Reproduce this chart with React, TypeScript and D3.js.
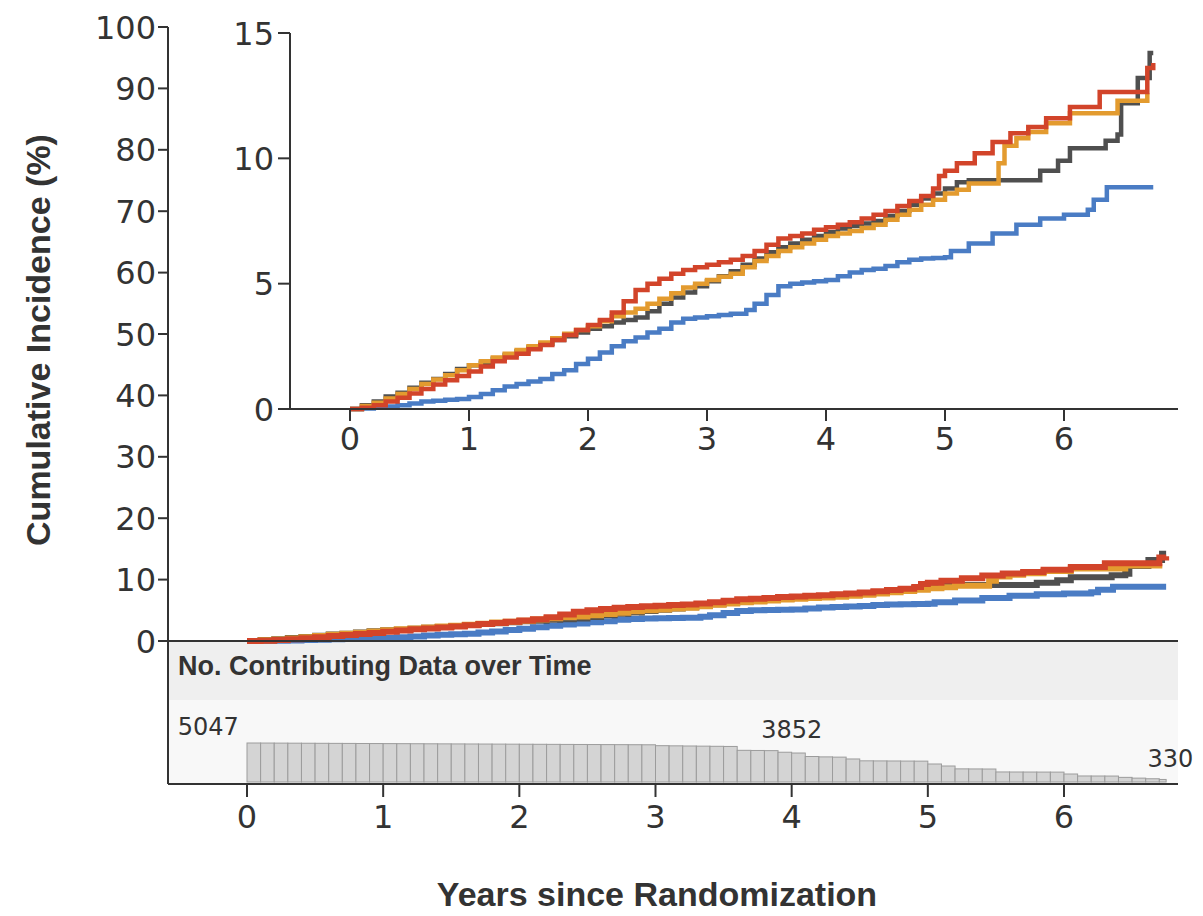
import * as d3 from "d3";

// cumulative incidence (%), [years, value]
const grey: [number, number][] = [
  [0, 0], [0.1, 0.15], [0.2, 0.3], [0.3, 0.5], [0.4, 0.65], [0.5, 0.85], [0.6, 1.05], [0.7, 1.2],
  [0.8, 1.4], [0.9, 1.6], [1.0, 1.75], [1.1, 1.85], [1.2, 2.0], [1.3, 2.15], [1.4, 2.3], [1.5, 2.45],
  [1.6, 2.6], [1.7, 2.75], [1.8, 2.9], [1.9, 3.05], [2.0, 3.2], [2.1, 3.3], [2.2, 3.45], [2.3, 3.55],
  [2.4, 3.65], [2.5, 3.9], [2.6, 4.2], [2.7, 4.45], [2.8, 4.65], [2.9, 4.9], [3.0, 5.1], [3.1, 5.3],
  [3.2, 5.5], [3.3, 5.75], [3.4, 6.0], [3.5, 6.25], [3.6, 6.45], [3.7, 6.6], [3.8, 6.75], [3.9, 6.9],
  [4.0, 7.05], [4.1, 7.2], [4.2, 7.3], [4.3, 7.4], [4.4, 7.5], [4.5, 7.7], [4.6, 7.9], [4.7, 8.15],
  [4.8, 8.4], [4.9, 8.6], [5.0, 8.8], [5.1, 9.05], [5.2, 9.13], [5.8, 9.5], [5.95, 9.9], [6.05, 10.4],
  [6.35, 10.7], [6.45, 10.95], [6.48, 12.2], [6.62, 13.2], [6.72, 14.2], [6.75, 14.2],
];
const blue: [number, number][] = [
  [0, 0], [0.1, 0.02], [0.2, 0.05], [0.3, 0.1], [0.4, 0.15], [0.5, 0.22], [0.6, 0.3], [0.7, 0.33],
  [0.8, 0.37], [0.9, 0.4], [1.0, 0.48], [1.1, 0.6], [1.2, 0.75], [1.3, 0.9], [1.4, 1.0], [1.5, 1.1],
  [1.6, 1.2], [1.7, 1.4], [1.8, 1.55], [1.9, 1.8], [2.0, 2.0], [2.1, 2.25], [2.2, 2.5], [2.3, 2.7],
  [2.4, 2.85], [2.5, 3.05], [2.6, 3.2], [2.7, 3.45], [2.8, 3.6], [2.9, 3.65], [3.0, 3.7], [3.1, 3.75],
  [3.2, 3.8], [3.33, 3.95], [3.4, 4.2], [3.5, 4.55], [3.6, 4.9], [3.7, 5.0], [3.8, 5.05], [3.9, 5.1],
  [4.0, 5.15], [4.1, 5.3], [4.2, 5.45], [4.3, 5.55], [4.4, 5.6], [4.5, 5.7], [4.6, 5.85], [4.7, 5.95],
  [4.8, 6.0], [4.9, 6.02], [5.0, 6.05], [5.05, 6.3], [5.2, 6.6], [5.4, 7.0], [5.6, 7.35],
  [5.8, 7.6], [6.0, 7.75], [6.2, 7.95], [6.25, 8.35], [6.36, 8.85], [6.75, 8.85],
];
const orange: [number, number][] = [
  [0, 0], [0.1, 0.12], [0.2, 0.25], [0.3, 0.42], [0.4, 0.6], [0.5, 0.8], [0.6, 1.0], [0.7, 1.18],
  [0.8, 1.35], [0.9, 1.55], [1.0, 1.75], [1.1, 1.9], [1.2, 2.05], [1.3, 2.2], [1.4, 2.35], [1.5, 2.5],
  [1.6, 2.65], [1.7, 2.82], [1.8, 3.0], [1.9, 3.15], [2.0, 3.3], [2.1, 3.5], [2.2, 3.7], [2.3, 3.85],
  [2.4, 4.0], [2.5, 4.2], [2.6, 4.4], [2.7, 4.62], [2.8, 4.85], [2.9, 5.0], [3.0, 5.15], [3.1, 5.28],
  [3.2, 5.4], [3.3, 5.65], [3.4, 5.9], [3.5, 6.1], [3.6, 6.3], [3.7, 6.45], [3.8, 6.6], [3.9, 6.75],
  [4.0, 6.9], [4.1, 7.0], [4.2, 7.1], [4.3, 7.22], [4.4, 7.35], [4.5, 7.55], [4.6, 7.75], [4.7, 7.95],
  [4.8, 8.15], [4.9, 8.35], [5.0, 8.6], [5.1, 8.75], [5.2, 9.0], [5.4, 9.0], [5.45, 9.8], [5.5, 10.5],
  [5.6, 10.8], [5.7, 11.05], [5.85, 11.4], [6.05, 11.8], [6.45, 12.3], [6.7, 12.6],
];
const red: [number, number][] = [
  [0, 0], [0.1, 0.05], [0.2, 0.15], [0.3, 0.3], [0.4, 0.45], [0.5, 0.62], [0.6, 0.8], [0.7, 0.98],
  [0.8, 1.15], [0.9, 1.32], [1.0, 1.5], [1.1, 1.7], [1.2, 1.9], [1.3, 2.05], [1.4, 2.2], [1.5, 2.38],
  [1.6, 2.55], [1.7, 2.75], [1.8, 2.95], [1.9, 3.15], [2.0, 3.35], [2.1, 3.55], [2.2, 3.85], [2.3, 4.3],
  [2.4, 4.75], [2.5, 5.0], [2.6, 5.2], [2.7, 5.4], [2.8, 5.55], [2.9, 5.65], [3.0, 5.75], [3.1, 5.85],
  [3.2, 5.95], [3.3, 6.1], [3.4, 6.3], [3.5, 6.55], [3.6, 6.8], [3.7, 6.9], [3.8, 7.0], [3.9, 7.15],
  [4.0, 7.25], [4.1, 7.35], [4.2, 7.45], [4.3, 7.6], [4.4, 7.75], [4.5, 7.9], [4.6, 8.1], [4.7, 8.3],
  [4.8, 8.5], [4.9, 8.8], [4.95, 9.3], [5.0, 9.5], [5.1, 9.8], [5.25, 10.2], [5.4, 10.65], [5.55, 11.0],
  [5.7, 11.25], [5.85, 11.6], [6.05, 12.05], [6.3, 12.65], [6.7, 13.6], [6.75, 13.8],
];

const series = [
  { name: "blue", color: "#4a7cc4", data: blue },
  { name: "grey", color: "#4f4f4f", data: grey },
  { name: "orange", color: "#e39b2f", data: orange },
  { name: "red", color: "#d2442a", data: red },
];

// number contributing data, per 0.1-year bin
const counts = [
  5047, 5040, 5032, 5024, 5016, 5008, 5000, 4992, 4984, 4976,
  4968, 4960, 4952, 4944, 4936, 4928, 4920, 4912, 4904, 4896,
  4888, 4880, 4872, 4864, 4856, 4848, 4840, 4832, 4824, 4816,
  4700, 4680, 4660, 4640, 4620, 4600, 4100, 4080, 4060, 3852,
  3750, 3300, 3250, 3220, 2980, 2740, 2730, 2720, 2710, 2700,
  2330, 2070, 1700, 1690, 1680, 1300, 1295, 1290, 1285, 1280,
  1035, 780, 775, 770, 600, 500, 420, 330,
];
const binWidth = 0.1;
const endYear = 6.75;

const mainYTicks = [0, 10, 20, 30, 40, 50, 60, 70, 80, 90, 100];
const insetYTicks = [0, 5, 10, 15];
const xTicks = [0, 1, 2, 3, 4, 5, 6];

const numberLabels = [
  { text: "5047", year: -0.06, anchor: "end", count: 5047 },
  { text: "3852", year: 4.0, anchor: "middle", count: 4700 },
  { text: "330", year: 6.95, anchor: "end", count: 900 },
];

export default function App() {
  const width = 1203;
  const height = 916;
  const axisLeft = 168;
  const plotRight = 1178;
  const bottomAxis = 784;

  const x = d3.scaleLinear([0, 6], [247, 1064]);
  const y = d3.scaleLinear([0, 100], [641, 27]);
  const xi = d3.scaleLinear([0, 6], [350, 1064]);
  const yi = d3.scaleLinear([0, 15], [409, 33]);
  const yb = d3.scaleLinear([0, 5047], [782, 743]);

  const mainLine = d3.line<[number, number]>((d) => x(d[0]), (d) => y(d[1])).curve(d3.curveStepAfter);
  const insetLine = d3.line<[number, number]>((d) => xi(d[0]), (d) => yi(d[1])).curve(d3.curveStepAfter);

  const tickFont = { fontFamily: "DejaVu Sans", fontSize: 32, fill: "#333" };
  const boldFont = { fontFamily: "Liberation Sans", fontWeight: 700, fill: "#333" };

  return (
    <svg width={width} height={height} style={{ position: "absolute", left: 0, top: 0, background: "#fff" }}>
      {/* bands under main chart */}
      <rect x={axisLeft} y={y(0)} width={plotRight - axisLeft} height={700 - y(0)} fill="#efefef" />
      <rect x={axisLeft} y={700} width={plotRight - axisLeft} height={bottomAxis - 700} fill="#f8f8f8" />
      <text x={178} y={675} {...boldFont} fontSize={27}>No. Contributing Data over Time</text>

      {/* count bars */}
      <g fill="#d4d4d4" stroke="#9c9c9c" strokeWidth={1}>
        {counts.map((c, i) => {
          const x0 = x(i * binWidth);
          const x1 = x(Math.min((i + 1) * binWidth, endYear));
          return <rect key={i} x={x0} y={yb(c)} width={x1 - x0} height={yb(0) - yb(c)} />;
        })}
      </g>
      {numberLabels.map((l) => (
        <text key={l.text} x={x(l.year)} y={yb(l.count) - 8} textAnchor={l.anchor} fontFamily="DejaVu Sans" fontSize={24} fill="#333">
          {l.text}
        </text>
      ))}

      {/* main curves */}
      <g fill="none" strokeWidth={6}>
        {series.map((s) => (
          <path key={s.name} d={mainLine(s.data) ?? ""} stroke={s.color} />
        ))}
      </g>

      {/* main axes */}
      <g stroke="#333" strokeWidth={2}>
        <line x1={axisLeft} x2={axisLeft} y1={y(100)} y2={bottomAxis} />
        <line x1={axisLeft} x2={plotRight} y1={y(0)} y2={y(0)} />
        <line x1={axisLeft} x2={plotRight} y1={bottomAxis} y2={bottomAxis} />
        {mainYTicks.map((t) => (
          <line key={t} x1={axisLeft - 10} x2={axisLeft} y1={y(t)} y2={y(t)} />
        ))}
        {xTicks.map((t) => (
          <line key={t} x1={x(t)} x2={x(t)} y1={bottomAxis} y2={bottomAxis + 13} />
        ))}
      </g>
      {mainYTicks.map((t) => (
        <text key={t} x={axisLeft - 12} y={y(t)} dy="0.36em" textAnchor="end" {...tickFont}>{t}</text>
      ))}
      {xTicks.map((t) => (
        <text key={t} x={x(t)} y={bottomAxis + 32} dy="0.36em" textAnchor="middle" {...tickFont}>{t}</text>
      ))}

      {/* inset */}
      <rect x={axisLeft + 2} y={20} width={plotRight - axisLeft} height={yi(0) + 40} fill="#fff" />
      <g fill="none" strokeWidth={4.5}>
        {series.map((s) => (
          <path key={s.name} d={insetLine(s.data) ?? ""} stroke={s.color} />
        ))}
      </g>
      <g stroke="#333" strokeWidth={2}>
        <line x1={290} x2={290} y1={yi(15)} y2={yi(0)} />
        <line x1={290} x2={plotRight} y1={yi(0)} y2={yi(0)} />
        {insetYTicks.map((t) => (
          <line key={t} x1={278} x2={290} y1={yi(t)} y2={yi(t)} />
        ))}
        {xTicks.map((t) => (
          <line key={t} x1={xi(t)} x2={xi(t)} y1={yi(0)} y2={yi(0) + 12} />
        ))}
      </g>
      {insetYTicks.map((t) => (
        <text key={t} x={274} y={yi(t)} dy="0.36em" textAnchor="end" {...tickFont}>{t}</text>
      ))}
      {xTicks.map((t) => (
        <text key={t} x={xi(t)} y={yi(0) + 29} dy="0.36em" textAnchor="middle" {...tickFont}>{t}</text>
      ))}

      {/* axis titles */}
      <text transform={`translate(50,340) rotate(-90)`} textAnchor="middle" {...boldFont} fontSize={34}>
        Cumulative Incidence (%)
      </text>
      <text x={657} y={906} textAnchor="middle" {...boldFont} fontSize={34}>
        Years since Randomization
      </text>
    </svg>
  );
}
